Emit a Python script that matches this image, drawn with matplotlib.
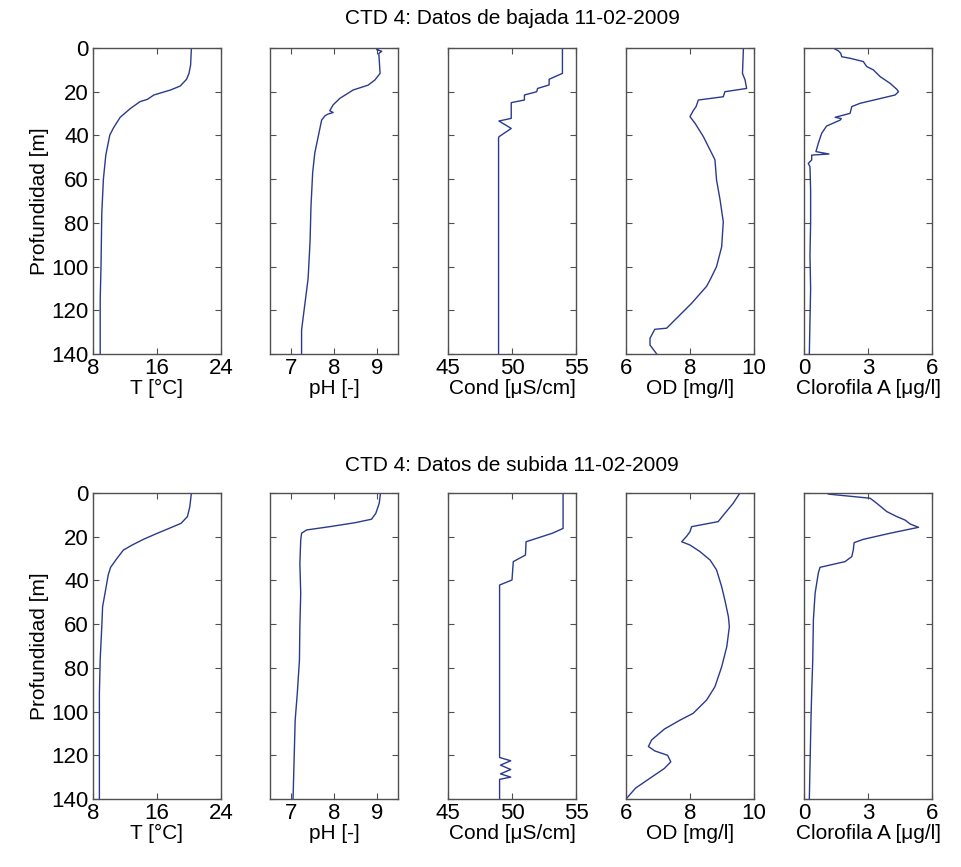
import matplotlib
matplotlib.use('Agg')
import matplotlib.pyplot as plt

plt.rcParams['font.family'] = ['Liberation Sans', 'DejaVu Sans']

# ---- CTD 4, bajada (down cast) ----
down_t_depth = [0, 7.8, 11.6, 14.3, 17.4, 19.2, 21.5, 23.5, 24.5, 27.6, 31.7, 36.3, 39.8, 49, 60, 75.5, 100, 115, 140]
down_t = [20.3, 20.2, 20.0, 19.7, 18.9, 17.7, 15.6, 14.8, 13.9, 12.7, 11.4, 10.6, 10.1, 9.6, 9.3, 9.1, 9.0, 8.9, 8.9]

down_ph_depth = [0, 0.8, 1.5, 2.5, 5.5, 11.6, 14.6, 17, 19.2, 23, 26, 28.7, 29.5, 30.3, 31, 33, 40.5, 48, 57, 72.6, 88, 103, 106, 129, 140]
down_ph = [9.08, 9.0, 9.12, 9.05, 9.06, 9.08, 8.96, 8.8, 8.45, 8.14, 7.98, 7.9, 7.98, 7.85, 7.79, 7.71, 7.63, 7.55, 7.5, 7.46, 7.44, 7.4, 7.39, 7.24, 7.24]

down_cond_depth = [0, 11.6, 14.3, 16.9, 18.5, 20, 21.5, 23.8, 25, 32.2, 33.4, 36.8, 40.6, 41.3, 140]
down_cond = [53.94, 53.94, 52.9, 52.9, 52.0, 51.93, 50.97, 50.97, 49.94, 49.94, 48.98, 49.94, 48.98, 48.95, 48.95]

down_od_depth = [0, 11.6, 14.6, 18.5, 20, 22.3, 23.8, 26.8, 28.7, 31.4, 34.5, 40.6, 48.2, 51.2, 60.4, 69.5, 79.5, 90.9, 100, 106, 109, 116.8, 128.2, 128.7, 132.8, 135.9, 140]
down_od = [9.67, 9.64, 9.72, 9.77, 9.09, 9.04, 8.26, 8.19, 8.1, 8.0, 8.16, 8.42, 8.68, 8.78, 8.83, 8.94, 9.04, 8.99, 8.83, 8.63, 8.52, 8.05, 7.27, 6.9, 6.75, 6.75, 6.96]

down_chl_depth = [0, 1.3, 2.4, 4, 4.7, 6.2, 8.5, 10, 13.1, 16.2, 18.9, 20, 21.5, 23.5, 25.3, 26.8, 29.9, 30.7, 31.7, 32.3, 33, 35.7, 39, 43.6, 47.4, 48.5, 49, 51.2, 52.8, 54.3, 65, 80, 95, 110, 125, 140]
down_chl = [1.37, 1.61, 1.72, 1.77, 2.16, 2.78, 2.94, 3.25, 3.57, 4.04, 4.35, 4.43, 4.27, 3.41, 2.63, 2.24, 2.16, 1.85, 1.46, 1.75, 1.69, 1.06, 0.83, 0.67, 0.56, 1.17, 0.36, 0.36, 0.2, 0.28, 0.31, 0.31, 0.28, 0.31, 0.28, 0.25]

# ---- CTD 4, subida (up cast) ----
up_t_depth = [0, 6.3, 10.8, 13.9, 16.2, 18.8, 21.2, 23.8, 26.1, 29.9, 34, 37.5, 45.9, 52, 61, 76, 91.6, 140]
up_t = [20.3, 20.1, 19.8, 19.0, 17.5, 15.8, 14.3, 12.9, 11.8, 11.0, 10.2, 9.9, 9.5, 9.2, 9.1, 8.9, 8.8, 8.8]

up_ph_depth = [0, 4.7, 9.3, 12, 13.6, 15.4, 16.9, 18.4, 21.5, 32.2, 45.9, 61.2, 76.4, 91.6, 103.9, 140]
up_ph = [9.09, 9.06, 8.98, 8.88, 8.49, 7.9, 7.36, 7.24, 7.22, 7.2, 7.22, 7.2, 7.19, 7.14, 7.09, 7.04]

up_cond_depth = [0, 16.2, 18.4, 22.3, 28.4, 31.4, 39.8, 42.1, 121, 122.5, 124.5, 126.5, 128.5, 130, 131, 140]
up_cond = [53.99, 53.99, 53.16, 51.1, 51.05, 50.1, 50.0, 49.03, 49.03, 49.9, 49.1, 49.9, 49.1, 49.9, 49.03, 49.03]

up_od_depth = [0, 4.7, 9.3, 13.1, 15.4, 17.7, 19.7, 22.3, 23.8, 26.8, 30.7, 35.2, 42.9, 49, 56.6, 61.2, 70.3, 79.5, 88.6, 94.7, 100.8, 103.9, 108, 113, 116, 118, 120, 123, 126, 130, 135, 140]
up_od = [9.56, 9.35, 9.09, 8.88, 8.05, 8.0, 7.9, 7.74, 8.0, 8.31, 8.63, 8.83, 8.99, 9.09, 9.2, 9.23, 9.15, 8.99, 8.78, 8.52, 8.1, 7.69, 7.2, 6.8, 6.7, 6.9, 7.3, 7.4, 7.2, 6.8, 6.3, 6.0]

up_chl_depth = [0.5, 2.4, 4.7, 8.5, 10.8, 12.4, 14.2, 15.7, 18.4, 21.2, 22.7, 26.1, 29.1, 31.4, 34, 36.7, 45.9, 58, 76.4, 91.6, 102, 140]
up_chl = [1.14, 3.1, 3.41, 3.88, 4.35, 4.74, 4.98, 5.37, 4.04, 2.78, 2.35, 2.31, 2.24, 1.92, 0.75, 0.67, 0.52, 0.44, 0.41, 0.36, 0.33, 0.25]

xlabels = ['T [°C]', 'pH [-]', 'Cond [μS/cm]', 'OD [mg/l]', 'Clorofila A [μg/l]']
xlims = [(8, 24), (6.5, 9.5), (45, 55), (6, 10), (0, 6)]
xticks = [[8, 16, 24], [7, 8, 9], [45, 50, 55], [6, 8, 10], [0, 3, 6]]
yticks = [0, 20, 40, 60, 80, 100, 120, 140]
titles = ['CTD 4: Datos de bajada 11-02-2009', 'CTD 4: Datos de subida 11-02-2009']

rows = [
    [(down_t, down_t_depth), (down_ph, down_ph_depth), (down_cond, down_cond_depth),
     (down_od, down_od_depth), (down_chl, down_chl_depth)],
    [(up_t, up_t_depth), (up_ph, up_ph_depth), (up_cond, up_cond_depth),
     (up_od, up_od_depth), (up_chl, up_chl_depth)],
]

W, H = 961, 867
fig = plt.figure(figsize=(W / 100, H / 100), dpi=100)

lefts = [93, 270, 448, 626, 804]
width = 128
tops = [48, 493]
height = 306
title_y = [18, 466]
line_color = '#2a3a8c'
axis_color = '#505050'

for r, row in enumerate(rows):
    for c, (vals, depth) in enumerate(row):
        ax = fig.add_axes([lefts[c] / W, 1 - (tops[r] + height) / H, width / W, height / H])
        ax.plot(vals, depth, color=line_color, lw=1.0)
        ax.set_xlim(*xlims[c])
        ax.set_ylim(140, 0)
        ax.set_xticks(xticks[c])
        ax.set_yticks(yticks)
        ax.tick_params(direction='in', top=True, right=True, length=4,
                       width=0.8, color=axis_color, labelsize=16, pad=3)
        for s in ax.spines.values():
            s.set_color(axis_color)
            s.set_linewidth(1.0)
        ax.set_xlabel(xlabels[c], fontsize=15, labelpad=0)
        if c == 0:
            ax.set_ylabel('Profundidad [m]', fontsize=15, labelpad=2)
        else:
            ax.set_yticklabels([])
    fig.text(512 / W, 1 - title_y[r] / H, titles[r], ha='center', va='center', fontsize=15)

fig.savefig('out.png', dpi=100)
